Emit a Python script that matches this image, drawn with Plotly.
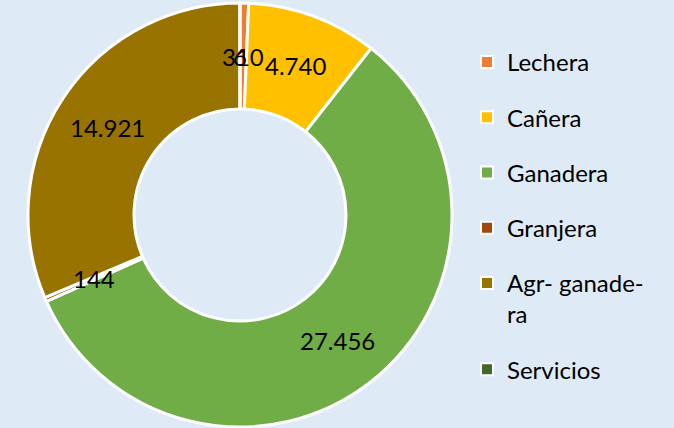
import math
import plotly.graph_objects as go

labels = ["Lechera", "Cañera", "Ganadera", "Granjera", "Agr- ganade-<br>ra", "Servicios"]
values = [310, 4740, 27456, 144, 14921, 6]
value_text = ["310", "4.740", "27.456", "144", "14.921", "6"]
colors = ["#ED7D31", "#FFC000", "#70AD47", "#9E480E", "#997300", "#43682B"]

W, H = 674, 428
BG = "#DEEAF6"
FONT = "Lato"

cx_px, cy_px, R_px = 240, 215, 212
hole = 0.5

fig = go.Figure()
fig.add_trace(go.Pie(
    labels=labels, values=values, sort=False, direction="clockwise", rotation=0,
    hole=hole, marker=dict(colors=colors, line=dict(color="white", width=3)),
    textinfo="none", hoverinfo="label+value", showlegend=False,
    domain=dict(x=[(cx_px - R_px) / W, (cx_px + R_px) / W],
                y=[(H - cy_px - R_px) / H, (H - cy_px + R_px) / H]),
))

# data labels at the middle of the ring, at each slice's mid-angle
total = sum(values)
cum = 0
r_lab = R_px * (1 + hole) / 2
for v, t in zip(values, value_text):
    mid = (cum + v / 2) / total * 2 * math.pi
    cum += v
    x = cx_px + r_lab * math.sin(mid)
    y = cy_px - r_lab * math.cos(mid)
    fig.add_annotation(x=x / W, y=1 - y / H, xref="paper", yref="paper",
                       text=t, showarrow=False, xanchor="center", yanchor="middle",
                       font=dict(family=FONT, size=24, color="black"))

# legend via dummy traces (one group each so spacing can be set)
for lab, col in zip(labels, colors):
    fig.add_trace(go.Scatter(x=[None], y=[None], mode="markers", name=lab,
                             legendgroup=lab,
                             marker=dict(symbol="square", size=16, color=col,
                                         line=dict(color="white", width=1))))

fig.update_layout(
    width=W, height=H, margin=dict(l=0, r=0, t=0, b=0),
    paper_bgcolor=BG, plot_bgcolor=BG,
    xaxis=dict(visible=False), yaxis=dict(visible=False),
    legend=dict(x=467 / W, y=1 - 40 / H, xanchor="left", yanchor="top",
                font=dict(family=FONT, size=24, color="black"),
                tracegroupgap=21, valign="top", itemsizing="constant",
                bgcolor="rgba(0,0,0,0)"),
    font=dict(family=FONT),
)

fig.write_html("out.html", config={"displayModeBar": False},
               post_script="document.body.style.margin='0';document.body.style.background='%s';" % BG)
